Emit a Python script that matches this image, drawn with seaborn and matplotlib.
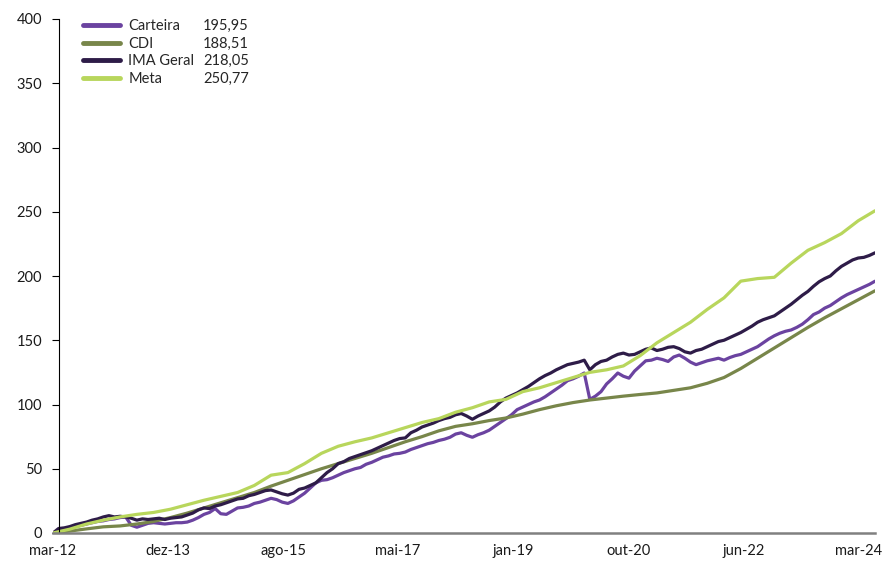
import numpy as np
import pandas as pd
import matplotlib.pyplot as plt
from matplotlib.lines import Line2D
import seaborn as sns

# month index: 0 = mar-12, 147 = jun-24
months_monthly = list(range(0, 148))
months_quarterly = list(range(0, 148, 3))

carteira = [0, 2, 3, 4, 5, 6, 7, 8, 9, 9.5,
            10.5, 11, 12, 12.5, 6, 4.5, 6, 7.5, 8, 7.5,
            7, 7.5, 8, 8, 8.5, 10, 12, 14.5, 16, 19,
            15, 14.5, 17, 19.5, 20, 21, 23, 24, 25.5, 27,
            26, 24, 23, 25, 28, 31, 35, 39, 41, 41.5,
            43, 45, 47, 48.5, 50, 51, 53.5, 55, 57, 59,
            60, 61.5, 62, 63, 65, 66.5, 68, 69.5, 70.5, 72,
            73, 74.5, 77, 78, 76, 74.5, 76.5, 78, 80, 83,
            86, 89, 92, 96, 98, 100, 102, 103.5, 106, 109,
            112, 115, 118.5, 120, 122, 124.5, 104, 106.5, 110, 116,
            120, 124.5, 122, 120.5, 126, 130, 134, 134.5, 136, 135,
            133.5, 137, 138.5, 136, 133, 131, 132.5, 134, 135, 136,
            134.5, 136.5, 138, 139, 141, 143, 145, 148, 151, 153.5,
            155.5, 157, 158, 160, 162.5, 166, 170, 172, 175, 177,
            180, 183, 185.5, 187.5, 189.5, 191.5, 193.5, 195.95]
ima_geral = [0, 3.5, 4, 5, 6.5, 7.5, 8.5, 10, 11, 12.5,
             13.5, 12.5, 13, 12.5, 11.5, 10, 11, 10.5, 11, 11.5,
             10.5, 11.5, 12, 12.5, 14, 15.5, 18, 19.5, 19, 21,
             22, 23.5, 25, 26.5, 27, 29, 30, 31.5, 33, 33.5,
             32, 30.5, 29.5, 31, 34, 35, 37, 39, 43, 47,
             50, 54, 55.5, 58, 59.5, 61, 62.5, 64, 66, 68,
             70, 72, 73.5, 74, 78, 80, 82.5, 84, 85.5, 87.5,
             89, 90, 92, 93, 91, 88.5, 91, 93, 95, 98,
             102, 105, 107, 109, 111.5, 114, 117, 120, 122.5, 124.5,
             127, 129, 131, 132, 133, 134.5, 127, 131, 133.5, 134.5,
             137, 139, 140, 138.5, 139, 141, 143, 144, 142, 143,
             144.5, 145, 143.5, 141, 140, 142, 143, 145, 147, 149,
             150, 152, 154, 156, 158.5, 161, 164, 166, 167.5, 169,
             172, 175, 178, 181.5, 185, 188, 192, 195.5, 198, 200,
             204, 207.5, 210, 212.5, 214, 214.5, 216, 218.05]
cdi = [0, 1.5, 3.2, 4.8, 5.5, 7, 9, 12, 15.5, 19.5,
       23.5, 27.5, 31.5, 36.5, 41, 45.5, 50, 54, 58, 62,
       66.5, 71, 75, 79.5, 83, 85, 87.5, 89.5, 92.5, 96,
       99, 101.5, 103.5, 105, 106.5, 107.8, 109, 111, 113, 116.5,
       121, 128, 136, 144, 152, 160, 167.5, 174.5, 181.5, 188.51]
meta = [0, 3, 7, 10, 12.5, 14.5, 16, 18.5, 22, 25.5,
        28.5, 31.5, 37, 45, 47, 54, 62, 67.5, 71, 74,
        78, 82, 86, 89, 94, 97.5, 102, 104, 110, 113,
        117, 121, 125, 127, 130, 138, 148, 156, 164, 174,
        183, 196, 198, 199, 210, 220, 226, 233, 243, 250.77]

series_names = ['Carteira', 'CDI', 'IMA Geral', 'Meta']
final_values = ['195,95', '188,51', '218,05', '250,77']
colors = ['#6B43A0', '#78864A', '#2E1C48', '#B8D65C']
tick_labels = ['mar-12', 'dez-13', 'ago-15', 'mai-17', 'jan-19', 'out-20', 'jun-22', 'mar-24']

df = pd.concat([
    pd.DataFrame({'mes': months_monthly, 'valor': carteira, 'serie': 'Carteira'}),
    pd.DataFrame({'mes': months_quarterly, 'valor': cdi, 'serie': 'CDI'}),
    pd.DataFrame({'mes': months_monthly, 'valor': ima_geral, 'serie': 'IMA Geral'}),
    pd.DataFrame({'mes': months_quarterly, 'valor': meta, 'serie': 'Meta'}),
], ignore_index=True)

sns.set_style('white')
plt.rcParams['font.family'] = ['Lato', 'DejaVu Sans']

fig = plt.figure(figsize=(8.85, 5.62), dpi=100)
ax = fig.add_axes([53 / 885, 29 / 562, 822 / 885, 514 / 562])

sns.lineplot(data=df, x='mes', y='valor', hue='serie', hue_order=series_names,
             palette=dict(zip(series_names, colors)), linewidth=2.3,
             legend=False, ax=ax)

ax.set_xlim(0, 147)
ax.set_ylim(0, 400)
ax.set_xlabel('')
ax.set_ylabel('')
ax.set_yticks(range(0, 401, 50))
ax.set_xticks([144 / 7 * i for i in range(8)], tick_labels)

for s in ['top', 'right']:
    ax.spines[s].set_visible(False)
ax.spines['left'].set_position(('data', 1.07))
ax.spines['left'].set_color('black')
ax.spines['left'].set_linewidth(0.8)
ax.spines['bottom'].set_color('#808080')
ax.spines['bottom'].set_linewidth(1.8)

ax.tick_params(axis='y', left=True, length=5, width=0.8, color='black',
               labelsize=10.5, labelcolor='#1a1a1a', pad=7)
ax.tick_params(axis='x', length=0, labelsize=10.5, labelcolor='#1a1a1a', pad=8)

# legend: names, then the final values in a second column
handles = [Line2D([], [], color=c, lw=3.5) for c in colors]
leg1 = ax.legend(handles, series_names, loc='upper left',
                 bbox_to_anchor=(83 / 885, 1 - 19 / 562), bbox_transform=fig.transFigure,
                 frameon=False, fontsize=10.5, handlelength=2.55, handletextpad=0.55,
                 labelspacing=0.25, borderpad=0, borderaxespad=0)
ax.add_artist(leg1)
blank = [Line2D([], [], color='none') for c in colors]
ax.legend(blank, final_values, loc='upper left',
          bbox_to_anchor=(203 / 885, 1 - 19 / 562), bbox_transform=fig.transFigure,
          frameon=False, fontsize=10.5, handlelength=0, handletextpad=0,
          labelspacing=0.25, borderpad=0, borderaxespad=0)

fig.savefig('out.png', dpi=100)
